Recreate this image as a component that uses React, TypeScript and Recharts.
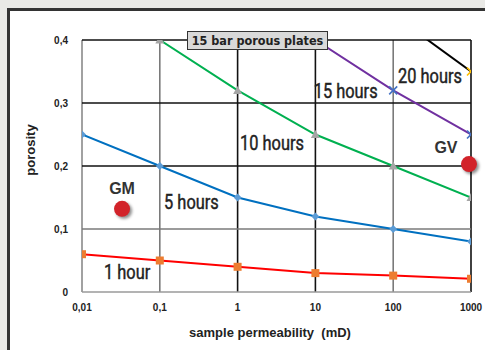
import React from "react";
import { LineChart, Line, XAxis, YAxis, ReferenceLine, ReferenceDot } from "recharts";

const permeability = [0.01, 0.1, 1, 10, 100, 1000];
const hour1 = [0.06, 0.05, 0.04, 0.03, 0.026, 0.021];
const hour5 = [0.25, 0.2, 0.15, 0.12, 0.1, 0.08];
const hour10 = [null, 0.4, 0.32, 0.25, 0.2, 0.15];
const hour15 = [null, null, null, 0.4, 0.32, 0.25];
const hour20 = [null, null, null, null, 0.44, 0.35];

const xTicks = [0.01, 0.1, 1, 10, 100, 1000];
const yTicks = [0, 0.1, 0.2, 0.3, 0.4];

const vGrid = [
  { x: 0.01, color: "#8a8a8a" },
  { x: 0.1, color: "#7a7a7a" },
  { x: 1, color: "#111111" },
  { x: 10, color: "#111111" },
  { x: 100, color: "#7a7a7a" },
  { x: 1000, color: "#111111" },
];
const hGrid = [
  { y: 0, color: "#9a9a9a" },
  { y: 0.1, color: "#7a7a7a" },
  { y: 0.2, color: "#111111" },
  { y: 0.3, color: "#111111" },
  { y: 0.4, color: "#111111" },
];

const curveLabels = [
  { text: "1 hour", x: 0.038, y: 0.0317 },
  { text: "5 hours", x: 0.255, y: 0.143 },
  { text: "10 hours", x: 2.77, y: 0.2365 },
  { text: "15 hours", x: 24.5, y: 0.32 },
  { text: "20 hours", x: 297, y: 0.343 },
];
const sampleNames = [
  { text: "GM", x: 0.0327, y: 0.165 },
  { text: "GV", x: 477, y: 0.229 },
];
const samplePoints = [
  { name: "GM", x: 0.0327, y: 0.132 },
  { name: "GV", x: 942, y: 0.203 },
];

const data = permeability.map((p, i) => ({
  p,
  h1: hour1[i],
  h5: hour5[i],
  h10: hour10[i],
  h15: hour15[i],
  h20: hour20[i],
}));

const fmt = (v: number) => String(v).replace(".", ",");

const square = (color: string) => (props: any) => {
  const { cx, cy, index } = props;
  if (cx == null || cy == null) return <g key={index} />;
  return <rect key={index} x={cx - 4} y={cy - 4} width={8} height={8} fill={color} />;
};
const diamond = (color: string) => (props: any) => {
  const { cx, cy, index } = props;
  if (cx == null || cy == null) return <g key={index} />;
  return <path key={index} d={`M${cx},${cy - 4}L${cx + 4},${cy}L${cx},${cy + 4}L${cx - 4},${cy}Z`} fill={color} />;
};
const triangle = (color: string) => (props: any) => {
  const { cx, cy, index } = props;
  if (cx == null || cy == null) return <g key={index} />;
  return <path key={index} d={`M${cx},${cy - 4.5}L${cx + 4.5},${cy + 3.5}L${cx - 4.5},${cy + 3.5}Z`} fill={color} />;
};
const cross = (color: string) => (props: any) => {
  const { cx, cy, index, value } = props;
  if (cx == null || cy == null || value > 0.4) return <g key={index} />;
  return (
    <path key={index} d={`M${cx - 4},${cy - 4}L${cx + 4},${cy + 4}M${cx + 4},${cy - 4}L${cx - 4},${cy + 4}`} stroke={color} strokeWidth={1.6} fill="none" />
  );
};

const tickStyle = { fontFamily: "'Liberation Sans', Arial, sans-serif", fontSize: 10, fontWeight: 700, fill: "#222" };
const condensed = "'DejaVu Sans Condensed', 'DejaVu Sans', sans-serif";

export default function App() {
  return (
    <div style={{ position: "fixed", left: 0, top: 0, width: 485, height: 350, background: "#e9e9e6", overflow: "hidden" }}>
      <div
        style={{
          position: "absolute",
          left: 7,
          top: 8,
          width: 490,
          height: 360,
          background: "#ffffff",
          borderLeft: "3px solid #333",
          borderTop: "3px solid #333",
        }}
      />
      <div style={{ position: "absolute", left: 0, top: 0 }}>
        <LineChart width={485} height={350} data={data} margin={{ top: 40, right: 14, bottom: 28, left: 42 }}>
          <XAxis
            dataKey="p"
            type="number"
            scale="log"
            domain={[0.01, 1000]}
            ticks={xTicks}
            tickFormatter={fmt}
            axisLine={false}
            tickLine={false}
            tick={tickStyle}
            tickMargin={6}
            height={30}
            allowDataOverflow
          />
          <YAxis
            type="number"
            domain={[0, 0.4]}
            ticks={yTicks}
            tickFormatter={fmt}
            axisLine={false}
            tickLine={false}
            tick={tickStyle}
            width={40}
            tickMargin={8}
            allowDataOverflow
          />
          {vGrid.map((g) => (
            <ReferenceLine key={"v" + g.x} x={g.x} stroke={g.color} strokeWidth={1.6} />
          ))}
          {hGrid.map((g) => (
            <ReferenceLine key={"h" + g.y} y={g.y} stroke={g.color} strokeWidth={1.6} />
          ))}
          <Line dataKey="h1" stroke="#ff0000" strokeWidth={2} dot={square("#ed7d31")} isAnimationActive={false} />
          <Line dataKey="h5" stroke="#0070c0" strokeWidth={2} dot={diamond("#5b9bd5")} isAnimationActive={false} />
          <Line dataKey="h10" stroke="#00b050" strokeWidth={2} dot={triangle("#a5a5a5")} isAnimationActive={false} />
          <Line dataKey="h15" stroke="#7030a0" strokeWidth={2} dot={cross("#4472c4")} isAnimationActive={false} />
          <Line dataKey="h20" stroke="#000000" strokeWidth={2} dot={cross("#ffc000")} isAnimationActive={false} />
          {curveLabels.map((l) => (
            <ReferenceDot
              key={l.text}
              x={l.x}
              y={l.y}
              r={0}
              shape={(p: any) => (
                <text
                  transform={`translate(${p.cx},${p.cy}) scale(0.82,1)`}
                  x={0}
                  y={0}
                  textAnchor="middle"
                  dominantBaseline="central"
                  stroke="#222"
                  strokeWidth={0.45}
                  style={{ fontFamily: "Roboto, sans-serif", fontWeight: 400, fontSize: 20, fill: "#222" }}
                >
                  {l.text}
                </text>
              )}
            />
          ))}
          {sampleNames.map((l) => (
            <ReferenceDot
              key={l.text}
              x={l.x}
              y={l.y}
              r={0}
              shape={(p: any) => (
                <text
                  x={p.cx}
                  y={p.cy}
                  textAnchor="middle"
                  dominantBaseline="central"
                  style={{ fontFamily: "'Liberation Sans', Arial, sans-serif", fontSize: 16, fontWeight: 700, fill: "#333" }}
                >
                  {l.text}
                </text>
              )}
            />
          ))}
          {samplePoints.map((s) => (
            <ReferenceDot
              key={s.name}
              x={s.x}
              y={s.y}
              r={8}
              ifOverflow="visible"
              shape={(p: any) => (
                <circle cx={p.cx} cy={p.cy} r={8} fill="#d2232a" style={{ filter: "drop-shadow(2px 2px 1.5px rgba(0,0,0,0.45))" }} />
              )}
            />
          ))}
        </LineChart>
      </div>
      <div
        style={{
          position: "absolute",
          left: 187,
          top: 31,
          width: 139,
          height: 17,
          background: "#d9d9d9",
          border: "1px solid #333",
          fontFamily: condensed,
          fontStretch: "condensed",
          fontWeight: 700,
          fontSize: 12.5,
          lineHeight: "17px",
          textAlign: "center",
          color: "#222",
          whiteSpace: "nowrap",
          overflow: "hidden",
        }}
      >
        15 bar porous plates
      </div>
      <div
        style={{
          position: "absolute",
          left: 30,
          top: 150,
          transform: "translate(-50%, -50%) rotate(-90deg)",
          fontFamily: "'Liberation Sans', Arial, sans-serif",
          fontWeight: 700,
          fontSize: 13,
          color: "#222",
          whiteSpace: "nowrap",
        }}
      >
        porosity
      </div>
      <div
        style={{
          position: "absolute",
          left: 270,
          top: 332,
          transform: "translate(-50%, -50%)",
          fontFamily: "'Liberation Sans', Arial, sans-serif",
          fontWeight: 700,
          fontSize: 13,
          color: "#222",
          whiteSpace: "pre",
        }}
      >
        sample permeability  (mD)
      </div>
    </div>
  );
}
